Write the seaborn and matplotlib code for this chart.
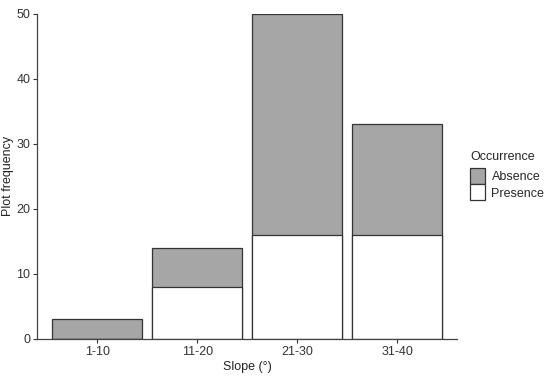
import matplotlib
matplotlib.use("Agg")
import matplotlib.pyplot as plt
import pandas as pd
import seaborn as sns
from matplotlib.patches import Patch

slope_classes = ["1-10", "11-20", "21-30", "31-40"]
presence = [0, 8, 16, 16]
absence = [3, 6, 34, 17]

df = pd.DataFrame({
    "slope": slope_classes,
    "presence": presence,
    "absence": absence,
})
df["total"] = df["presence"] + df["absence"]

sns.set_theme(style="ticks")
plt.rcParams["font.family"] = ["Liberation Sans", "DejaVu Sans"]

fig = plt.figure(figsize=(5.5, 3.77), dpi=100)
ax = fig.add_axes([0.068, 0.101, 0.763, 0.862])

grey = "#a6a6a6"
edge = "#333333"

# stacked: total in grey, presence in white drawn over it
sns.barplot(data=df, x="slope", y="total", order=slope_classes, color=grey,
            width=0.9, edgecolor=edge, linewidth=0.9, saturation=1, ax=ax)
sns.barplot(data=df, x="slope", y="presence", order=slope_classes, color="white",
            width=0.9, edgecolor=edge, linewidth=0.9, saturation=1, ax=ax)

ax.set_xlim(-0.6, 3.6)
ax.set_ylim(0, 50)
ax.set_yticks([0, 10, 20, 30, 40, 50])
ax.set_xlabel("Slope (°)", fontsize=9, color="#222222", labelpad=2)
ax.set_ylabel("Plot frequency", fontsize=9, color="#222222", labelpad=2)
ax.tick_params(axis="both", labelsize=9, length=3, width=0.8, color="#333333",
               labelcolor="#333333", pad=2)

sns.despine(ax=ax)
for s in ["left", "bottom"]:
    ax.spines[s].set_color("#444444")
    ax.spines[s].set_linewidth(0.9)

handles = [
    Patch(facecolor=grey, edgecolor=edge, linewidth=0.9, label="Absence"),
    Patch(facecolor="white", edgecolor=edge, linewidth=0.9, label="Presence"),
]
leg = fig.legend(handles=handles, title="Occurrence", loc="upper left",
                 bbox_to_anchor=(0.855, 0.6), frameon=False, fontsize=9,
                 title_fontsize=9, handlelength=1.2, handleheight=1.6,
                 handletextpad=0.5, labelspacing=0.0, borderaxespad=0,
                 borderpad=0)
leg._legend_box.align = "left"
leg._legend_box.sep = 4

fig.savefig("out.png", dpi=100)
